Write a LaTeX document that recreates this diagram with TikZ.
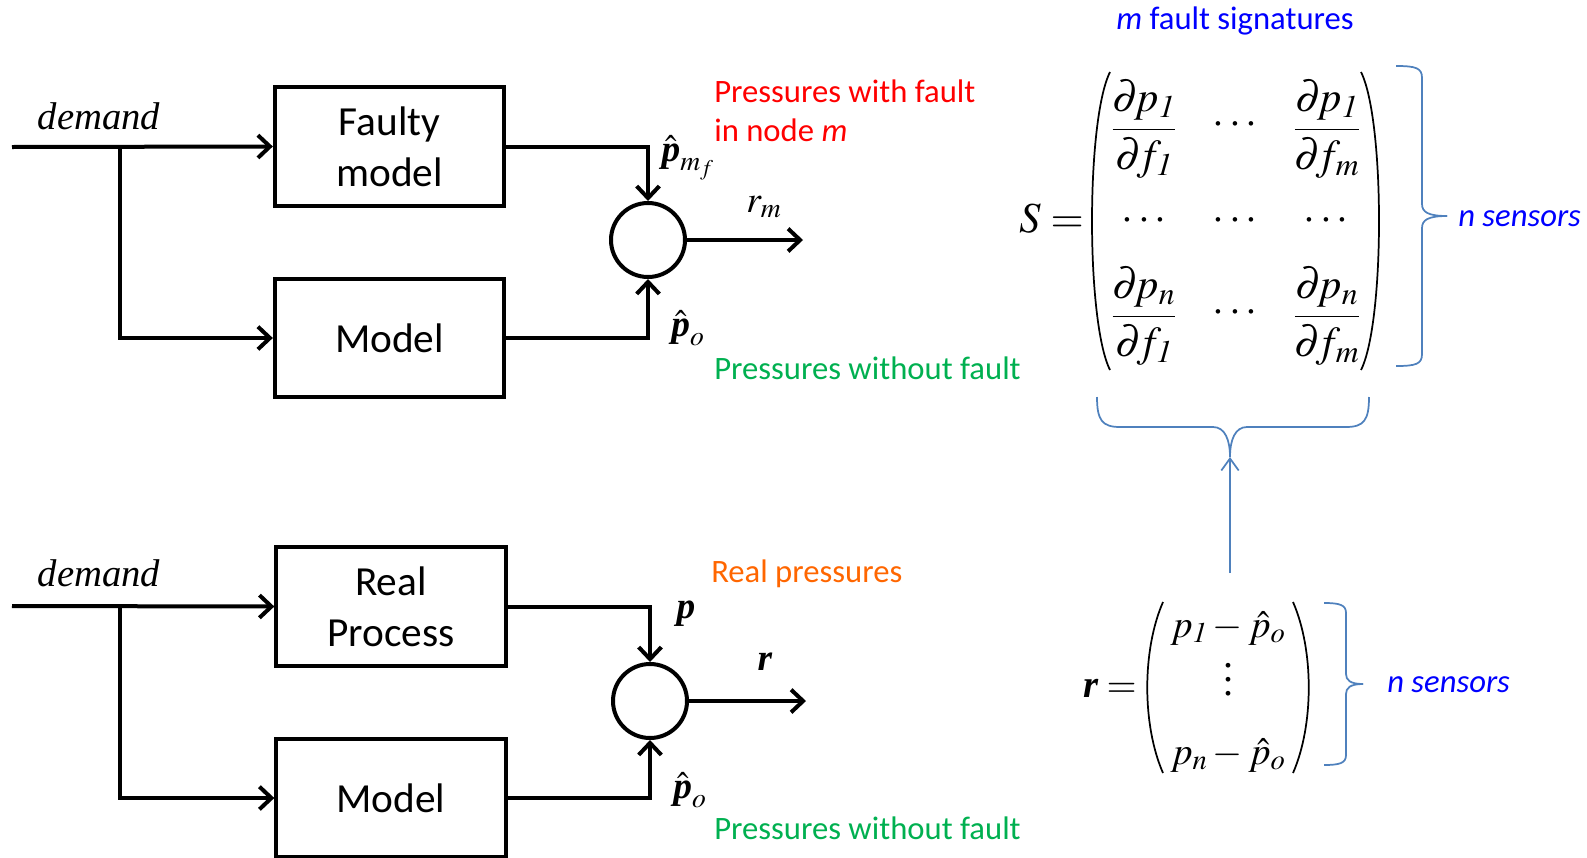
\documentclass[tikz,border=0pt]{standalone}
\usepackage{mathptmx}
\usepackage[no-math]{fontspec}
\setmainfont{Liberation Serif}
\setsansfont{Carlito}
\usetikzlibrary{arrows.meta}

\definecolor{faultred}{RGB}{255,0,0}
\definecolor{okgreen}{RGB}{0,176,80}
\definecolor{realorange}{RGB}{255,102,0}
\definecolor{sigblue}{RGB}{0,0,255}
\definecolor{bracecol}{RGB}{79,129,189}

\newcommand{\bp}{\mbox{\bfseries\itshape p}}
\newcommand{\br}{\mbox{\bfseries\itshape r}}
\newcommand{\pd}{\partial\!}
\newcommand{\tallvdots}{\vbox{\baselineskip=10.5pt\lineskiplimit=0pt\hbox{.}\hbox{.}\hbox{.}}}

\begin{document}
\begin{tikzpicture}[x=0.75pt,y=0.75pt,yscale=-1,xscale=1,
  block/.style={draw,line width=3pt,minimum width=172pt,minimum height=89pt,align=center,font=\fontsize{31}{38}\selectfont\sffamily},
  sumnode/.style={draw,circle,line width=3pt,minimum size=55.5pt,inner sep=0pt},
  flow/.style={line width=3pt,-{Straight Barb[length=9pt,width=17pt]}},
  demandtxt/.style={font=\fontsize{29}{34}\selectfont\itshape},
  sig/.style={inner sep=0pt,font=\fontsize{28}{32}\selectfont},
  note/.style={anchor=west,inner sep=0pt,align=left,font=\fontsize{24.5}{29}\selectfont\sffamily},
  mathbig/.style={inner sep=0pt,font=\fontsize{32}{40}\selectfont},
  mathvec/.style={inner sep=0pt,font=\fontsize{29}{36}\selectfont},
  brace/.style={draw=bracecol,line width=1.3pt},
  paren/.style={line width=1.3pt}]
\useasboundingbox (0,0) rectangle (1587,857);

%Top diagram: fault model
\node[demandtxt] (dem1) at (99,116) {demand};
\coordinate (in1) at (12,147);
\coordinate (br1) at (120,147);
\node[block] (faulty) at (389.5,146.5) {Faulty\\model};
\node[block] (model1) at (389.5,338) {Model};
\node[sumnode] (sum1) at (648,240) {};
\coordinate (out1) at (803,240);
\draw[flow] (in1) -- (faulty.west);
\draw[flow] (br1) |- (model1.west);
\draw[flow] (faulty.east) -| (sum1.north);
\draw[flow] (model1.east) -| (sum1.south);
\draw[flow] (sum1.east) -- (out1);
\node[sig] (pmf) at (688,158) {$\hat{\bp}_{m_f}$};
\node[sig] (rm) at (764,207) {$r_m$};
\node[sig] (po1) at (688,328) {$\hat{\bp}_o$};
\node[note,text=faultred] (withfault) at (714,111) {Pressures with fault\\in node \textit{m}};
\node[note,text=okgreen] (nofault1) at (714,368) {Pressures without fault};

%Bottom diagram: real process
\node[demandtxt] (dem2) at (99,573) {demand};
\coordinate (in2) at (12,606);
\coordinate (br2) at (120,606);
\node[block] (real) at (391,606.5) {Real\\Process};
\node[block] (model2) at (391,798) {Model};
\node[sumnode] (sum2) at (650,701) {};
\coordinate (out2) at (806,701);
\draw[flow] (in2) -- (real.west);
\draw[flow] (br2) |- (model2.west);
\draw[flow] (real.east) -| (sum2.north);
\draw[flow] (model2.east) -| (sum2.south);
\draw[flow] (sum2.east) -- (out2);
\node[sig] (preal) at (686,614) {$\bp$};
\node[sig] (rres) at (765,662) {$\br$};
\node[sig] (po2) at (690,790) {$\hat{\bp}_o$};
\node[note,text=realorange] (realp) at (711,574) {Real pressures};
\node[note,text=okgreen] (nofault2) at (714,828) {Pressures without fault};

%Signature matrix S
\node[font=\fontsize{24.5}{29}\selectfont\sffamily,text=sigblue,inner sep=0pt] (msig) at (1235,21) {\textit{m} fault signatures};
\node[mathbig,anchor=east] (seq) at (1084,219) {$S =$};
\node[mathbig] (s11) at (1144,129) {$\displaystyle\frac{\pd p_{\mathit{1}}}{\pd f_{\mathit{1}}}$};
\node[mathbig] (s12) at (1235,125) {$\cdots$};
\node[mathbig] (s13) at (1327,129) {$\displaystyle\frac{\pd p_{\mathit{1}}}{\pd f_m}$};
\node[mathbig] (s21) at (1144,221) {$\cdots$};
\node[mathbig] (s22) at (1235,221) {$\cdots$};
\node[mathbig] (s23) at (1326,221) {$\cdots$};
\node[mathbig] (s31) at (1144,316) {$\displaystyle\frac{\pd p_n}{\pd f_{\mathit{1}}}$};
\node[mathbig] (s32) at (1235,313) {$\cdots$};
\node[mathbig] (s33) at (1327,316) {$\displaystyle\frac{\pd p_n}{\pd f_m}$};
\draw[paren] (1110,72) .. controls (1086,120) and (1086,322) .. (1110,370);
\draw[paren] (1361,72) .. controls (1385,120) and (1385,322) .. (1361,370);
%Brace: n sensors
\draw[brace] (1396,66) .. controls (1416,66) and (1422,68) .. (1422,78) -- (1422,204) .. controls (1422,212) and (1428,216) .. (1447,216);
\draw[brace] (1396,366) .. controls (1416,366) and (1422,364) .. (1422,354) -- (1422,228) .. controls (1422,220) and (1428,216) .. (1447,216);
\node[font=\fontsize{24.5}{29}\selectfont\sffamily\itshape,text=sigblue,anchor=west,inner sep=0pt] (nsens1) at (1458,219) {n sensors};
%Brace: under S
\coordinate (stip) at (1230,457);
\draw[brace] (1097,397) .. controls (1097,420) and (1102,427) .. (1120,427) -- (1213,427) .. controls (1225,427) and (1230,440) .. (stip);
\draw[brace] (1369,397) .. controls (1369,420) and (1364,427) .. (1346,427) -- (1247,427) .. controls (1235,427) and (1230,440) .. (stip);

%Residual vector r
\coordinate (rtop) at (1230,573);
\draw[draw=bracecol,line width=1.3pt,-{Straight Barb[length=9pt,width=13pt]}] (rtop) -- (stip);
\node[mathvec,anchor=east] (req) at (1137,688) {$\br =$};
\node[mathvec] (r1) at (1228,628) {$p_{\mathit{1}} - \hat{p}_o$};
\node[mathvec,font=\fontsize{30}{34}\selectfont\rmfamily] (r2) at (1228,680) {\tallvdots};
\node[mathvec] (r3) at (1228,755) {$p_n - \hat{p}_o$};
\draw[paren] (1163,602) .. controls (1142,650) and (1142,725) .. (1163,773);
\draw[paren] (1293,602) .. controls (1314,650) and (1314,725) .. (1293,773);
\draw[brace] (1324,603) .. controls (1340,603) and (1346,605) .. (1346,613) -- (1346,674) .. controls (1346,680) and (1350,684) .. (1363,684);
\draw[brace] (1324,765) .. controls (1340,765) and (1346,763) .. (1346,755) -- (1346,694) .. controls (1346,688) and (1350,684) .. (1363,684);
\node[font=\fontsize{24.5}{29}\selectfont\sffamily\itshape,text=sigblue,anchor=west,inner sep=0pt] (nsens2) at (1387,685) {n sensors};

\end{tikzpicture}
\end{document}
